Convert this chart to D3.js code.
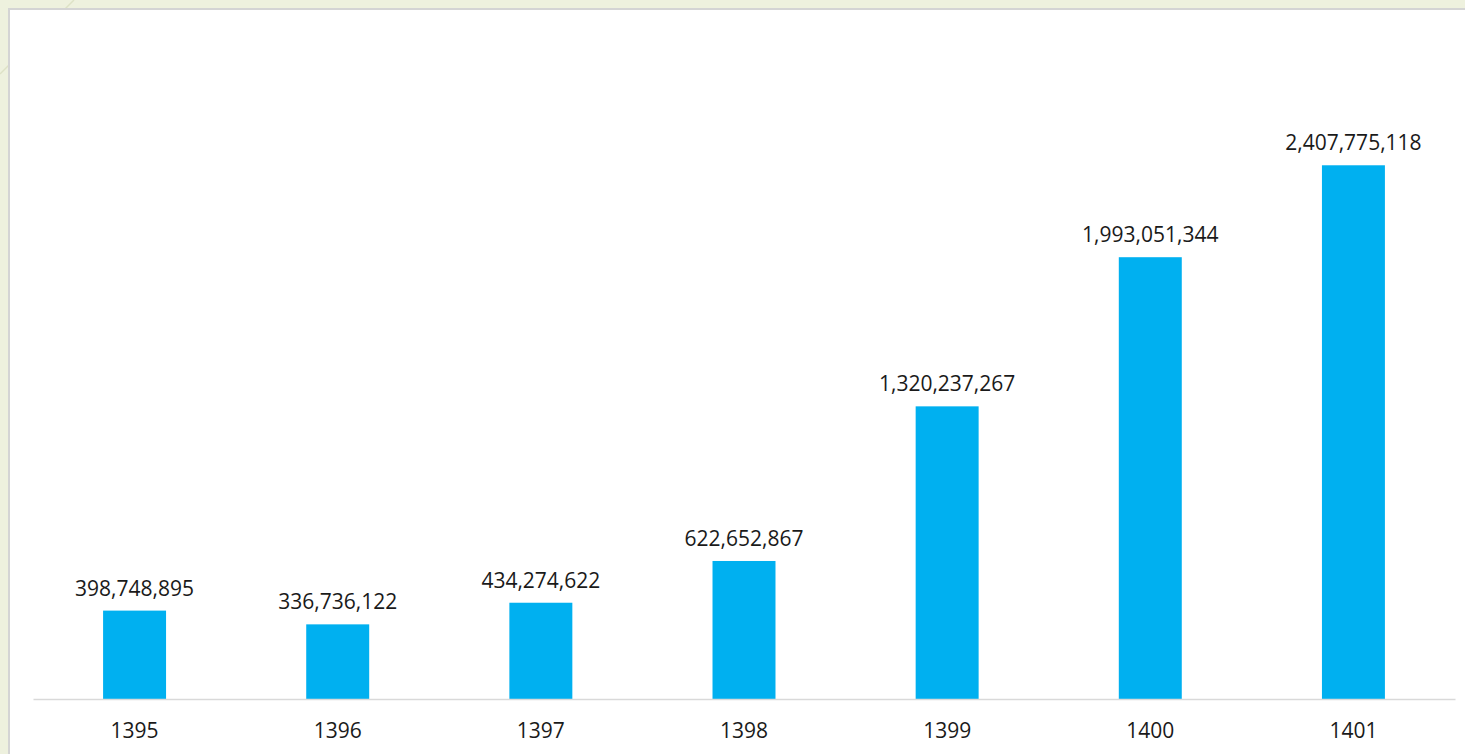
<!DOCTYPE html>
<html>
<head>
<meta charset="utf-8">
<script src="https://cdn.jsdelivr.net/npm/d3@7"></script>
<style>
  html, body { margin: 0; padding: 0; background: #eef1de; overflow: hidden; }
  svg { display: block; }
</style>
</head>
<body>
<svg id="chart" width="1465" height="754"></svg>
<script>
const categories = ["1395", "1396", "1397", "1398", "1399", "1400", "1401"];
const values = [398748895, 336736122, 434274622, 622652867, 1320237267, 1993051344, 2407775118];

const W = 1465, H = 754;
const svg = d3.select("#chart");

// background decoration
svg.append("rect").attr("x", 0).attr("y", 0).attr("width", W).attr("height", H).attr("fill", "#eef1de");
svg.append("line").attr("x1", 0).attr("y1", 74).attr("x2", 74).attr("y2", 0)
  .attr("stroke", "#dde2c6").attr("stroke-width", 1.5);
// white panel
svg.append("rect").attr("x", 9).attr("y", 9).attr("width", W).attr("height", H)
  .attr("fill", "#ffffff").attr("stroke", "#d4d4d4").attr("stroke-width", 2);

const x = d3.scaleBand().domain(categories).range([33, 1455]).paddingInner(0.69).paddingOuter(0.345);
const y = d3.scaleLinear().domain([0, 3000000000]).range([699, 34]);

const font = "'Open Sans', 'Noto Sans', sans-serif";
const fmt = d3.format(",");

const data = categories.map((c, i) => ({ c, v: values[i] }));

svg.append("g").selectAll("rect").data(data).join("rect")
  .attr("x", d => x(d.c))
  .attr("y", d => y(d.v))
  .attr("width", x.bandwidth())
  .attr("height", d => y(0) - y(d.v))
  .attr("fill", "#00b0f0");

// axis
const axis = d3.axisBottom(x).tickSize(0).tickPadding(24);
const gA = svg.append("g").attr("transform", `translate(0,${y(0)})`).call(axis);
gA.select(".domain").attr("stroke", "#d9d9d9").attr("stroke-width", 1.5);
gA.selectAll("text").attr("font-family", font).attr("font-size", 21).attr("fill", "#1a1a1a");

// value labels
svg.append("g").selectAll("text").data(data).join("text")
  .attr("x", d => x(d.c) + x.bandwidth() / 2)
  .attr("y", d => y(d.v) - 15)
  .attr("text-anchor", "middle")
  .attr("font-family", font).attr("font-size", 21).attr("fill", "#1a1a1a")
  .text(d => fmt(d.v));
</script>
</body>
</html>
